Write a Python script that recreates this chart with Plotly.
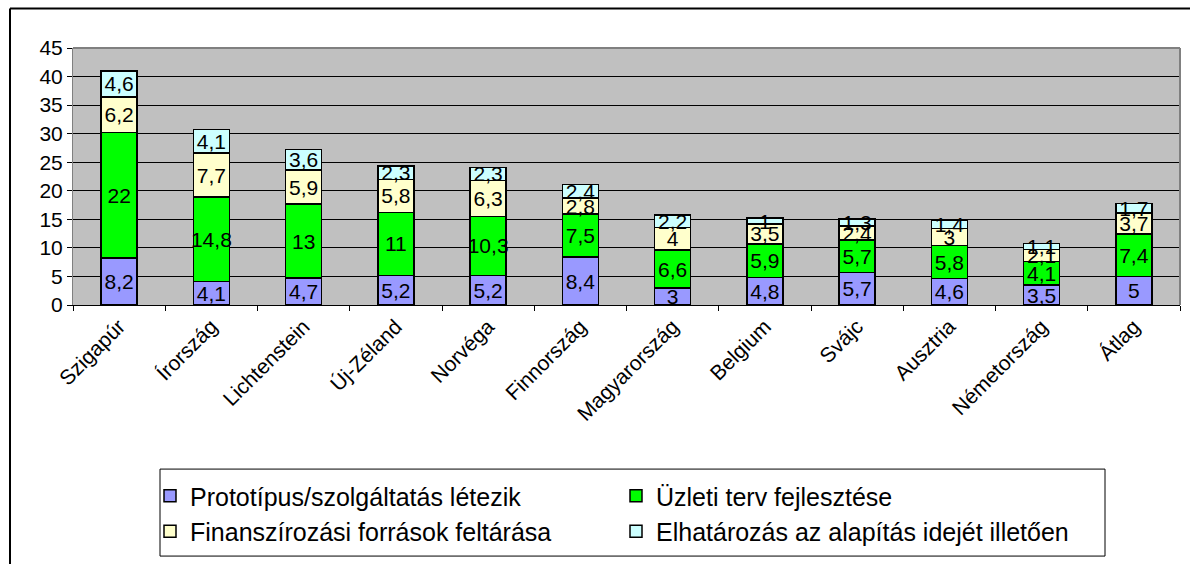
import plotly.graph_objects as go

categories = ["Szigapúr", "Írország", "Lichtenstein", "Új-Zéland", "Norvéga", "Finnország",
              "Magyarország", "Belgium", "Svájc", "Ausztria", "Németország", "Átlag"]
prototipus = [8.2, 4.1, 4.7, 5.2, 5.2, 8.4, 3, 4.8, 5.7, 4.6, 3.5, 5]
uzleti_terv = [22, 14.8, 13, 11, 10.3, 7.5, 6.6, 5.9, 5.7, 5.8, 4.1, 7.4]
finanszirozas = [6.2, 7.7, 5.9, 5.8, 6.3, 2.8, 4, 3.5, 2.4, 3, 2.1, 3.7]
elhatarozas = [4.6, 4.1, 3.6, 2.3, 2.3, 2.4, 2.2, 1, 1.3, 1.4, 1.1, 1.7]

series = [
    ("Prototípus/szolgáltatás létezik", prototipus, "#9999FF"),
    ("Üzleti terv fejlesztése", uzleti_terv, "#00FF00"),
    ("Finanszírozási források feltárása", finanszirozas, "#FFFFCC"),
    ("Elhatározás az alapítás idejét illetően", elhatarozas, "#CCFFFF"),
]

FONT = "Liberation Sans, Arial, sans-serif"
W, H = 1190, 564
ML, MR, MT, MB = 73, 10, 48, 256
PW = W - ML - MR
PH = H - MT - MB


def px_x(px):
    return (px - ML) / PW


def px_y(py):
    return (H - MB - py) / PH


fig = go.Figure()
for name, vals, color in series:
    fig.add_trace(go.Bar(
        name=name, x=categories, y=vals,
        marker=dict(color=color, line=dict(color="black", width=1.5)),
        text=[f"{v:g}".replace(".", ",") for v in vals],
        textposition="inside", insidetextanchor="middle", textangle=0,
        textfont=dict(family=FONT, size=21, color="black"),
        hoverinfo="skip",
    ))

fig.update_layout(
    barmode="stack", bargap=0.61,
    width=W, height=H,
    margin=dict(l=ML, r=MR, t=MT, b=MB),
    paper_bgcolor="white", plot_bgcolor="#C0C0C0",
    font=dict(family=FONT, color="black"),
    uniformtext=dict(minsize=21, mode="show"),
    showlegend=True,
    legend=dict(orientation="h", x=px_x(150), y=px_y(478), xanchor="left", yanchor="top",
                entrywidth=421, font=dict(family=FONT, size=25, color="black"),
                bgcolor="rgba(0,0,0,0)", borderwidth=0, traceorder="normal"),
    xaxis=dict(tickangle=-45, tickson="boundaries", ticks="outside", ticklen=5,
               tickcolor="black", showline=True, linecolor="black", linewidth=1,
               tickfont=dict(family=FONT, size=21, color="black"), showgrid=False),
    yaxis=dict(range=[0, 45], dtick=5, ticks="outside", ticklen=5, tickcolor="black",
               showline=True, linecolor="#808080", linewidth=1,
               gridcolor="black", gridwidth=1,
               tickfont=dict(family=FONT, size=21, color="black"), zeroline=False),
    shapes=[
        # plot area border (top/right)
        dict(type="line", xref="paper", yref="paper", x0=0, x1=1, y0=1, y1=1,
             line=dict(color="#808080", width=2), layer="above"),
        dict(type="line", xref="paper", yref="paper", x0=1, x1=1, y0=0, y1=1,
             line=dict(color="#808080", width=2), layer="above"),
        # legend box
        dict(type="rect", xref="paper", yref="paper",
             x0=px_x(160), x1=px_x(1105), y0=px_y(562), y1=px_y(474),
             line=dict(color="black", width=1), fillcolor="rgba(0,0,0,0)", layer="below"),
        # outer chart border
        dict(type="line", xref="paper", yref="paper", x0=px_x(10), x1=px_x(1200),
             y0=px_y(8), y1=px_y(8), line=dict(color="black", width=2)),
        dict(type="line", xref="paper", yref="paper", x0=px_x(10), x1=px_x(10),
             y0=px_y(8), y1=px_y(580), line=dict(color="black", width=2)),
    ],
)

fig.write_html("out.html", config={"displayModeBar": False},
               post_script="document.body.style.margin='0';")
